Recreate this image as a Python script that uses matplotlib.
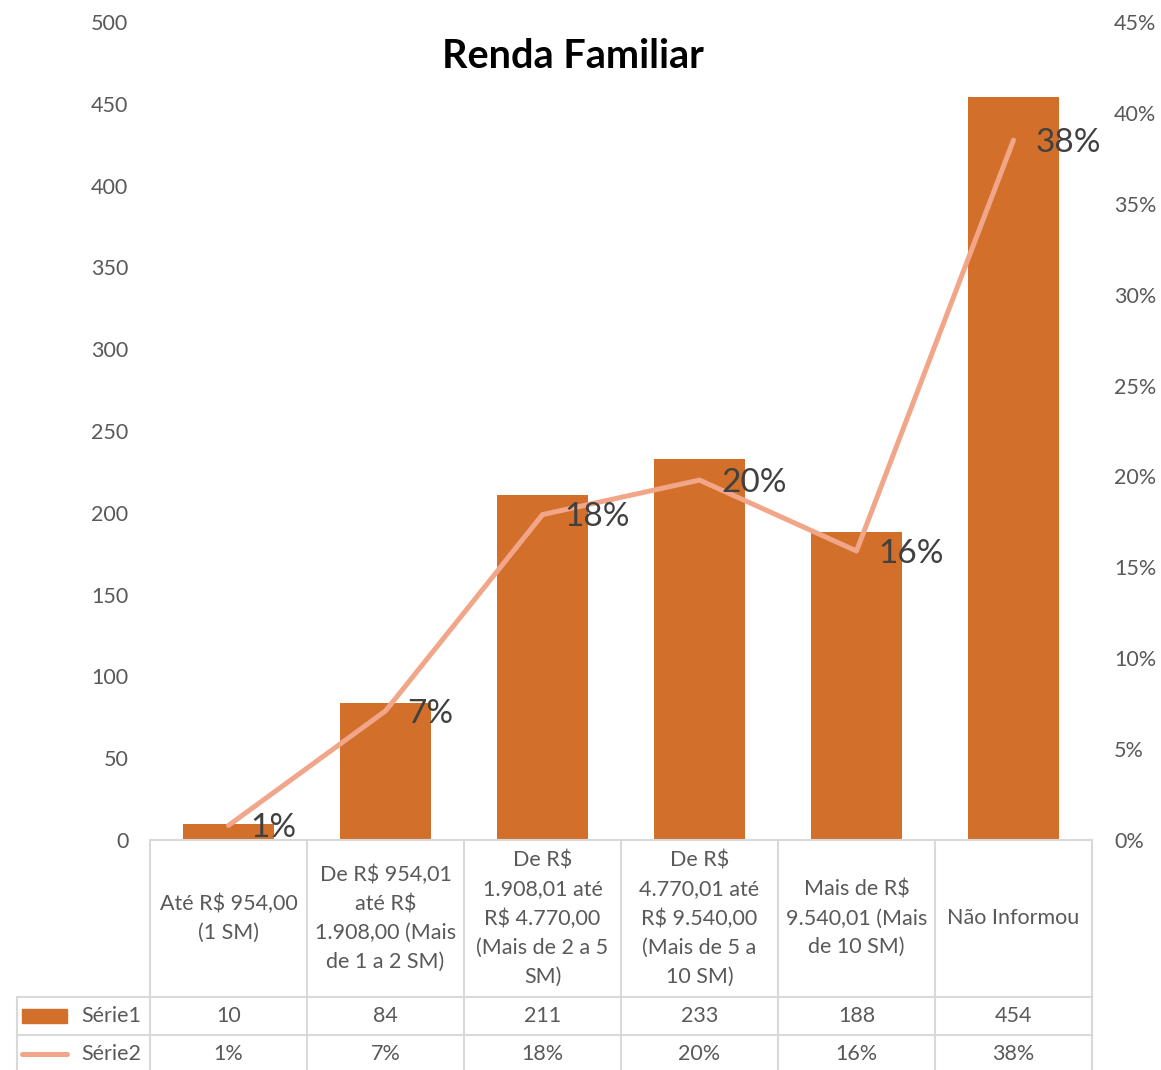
import matplotlib.pyplot as plt
from matplotlib.transforms import blended_transform_factory
from matplotlib.ticker import PercentFormatter

plt.rcParams['font.family'] = ['Lato', 'DejaVu Sans']
plt.rcParams['text.parse_math'] = False

categorias = ['Até R$ 954,00\n(1 SM)',
              'De R$ 954,01\naté R$\n1.908,00 (Mais\nde 1 a 2 SM)',
              'De R$\n1.908,01 até\nR$ 4.770,00\n(Mais de 2 a 5\nSM)',
              'De R$\n4.770,01 até\nR$ 9.540,00\n(Mais de 5 a\n10 SM)',
              'Mais de R$\n9.540,01 (Mais\nde 10 SM)',
              'Não Informou']
serie1 = [10, 84, 211, 233, 188, 454]
serie2 = [0.008, 0.071, 0.179, 0.198, 0.159, 0.385]
serie2_txt = ['1%', '7%', '18%', '20%', '16%', '38%']

cor_barra = '#D2702B'
cor_linha = '#F2A689'
cinza = '#595959'
grade = '#D9D9D9'
fs = 15.5

W, H = 1161, 1070
fig = plt.figure(figsize=(W/100, H/100), dpi=100)
ax = fig.add_axes([150/W, (H-840)/H, (1092-150)/W, (840-22)/H])
ax2 = ax.twinx()

x = list(range(len(categorias)))
ax.bar(x, serie1, width=0.575, color=cor_barra, zorder=2)
ax.set_xlim(-0.5, len(categorias)-0.5)
ax.set_ylim(0, 500)
ax.set_yticks(range(0, 501, 50))
ax.set_xticks([])

ax2.plot(x, serie2, color=cor_linha, lw=3.6, solid_capstyle='round', zorder=3)
ax2.set_ylim(0, 0.45)
ax2.set_yticks([i/100 for i in range(0, 46, 5)])
ax2.yaxis.set_major_formatter(PercentFormatter(1.0, decimals=0))
for xi, yi, t in zip(x, serie2, serie2_txt):
    ax2.annotate(t, (xi, yi), xytext=(16, -2), textcoords='offset points',
                 ha='left', va='center', fontsize=24, color='#404040')

for a in (ax, ax2):
    for s in a.spines.values():
        s.set_visible(False)
    a.tick_params(length=0, labelsize=fs, labelcolor=cinza)
ax.tick_params(axis='y', pad=15.5)
ax2.tick_params(axis='y', pad=16)

fig.text(573/W, 1-56/H, 'Renda Familiar', ha='center', va='center',
         fontsize=28.5, fontweight='bold', color='black')

# tabela de dados
tr = blended_transform_factory(ax.transData, ax.transAxes)
altura = 818
h_cab = 157/altura
h_lin = 38/altura
y0 = 0
y1 = -h_cab
y2 = y1 - h_lin
y3 = y2 - h_lin
x_esq = -0.5 - 133/157
n = len(categorias)
kw = dict(transform=tr, clip_on=False, color=grade, lw=1.5)
ax.plot([-0.5, n-0.5], [y0, y0], **kw)
ax.plot([x_esq, n-0.5], [y1, y1], **kw)
ax.plot([x_esq, n-0.5], [y2, y2], **kw)
for i in range(n+1):
    ax.plot([i-0.5, i-0.5], [y0, y3], **kw)
ax.plot([x_esq, x_esq], [y1, y3], **kw)

for i, c in enumerate(categorias):
    ax.text(i, (y0+y1)/2, c, transform=tr, ha='center', va='center',
            fontsize=fs, color=cinza, linespacing=1.55)
    ax.text(i, (y1+y2)/2, str(serie1[i]), transform=tr, ha='center',
            va='center', fontsize=fs, color=cinza)
    ax.text(i, (y2+y3)/2, serie2_txt[i], transform=tr, ha='center',
            va='center', fontsize=fs, color=cinza)

# legenda na tabela
ax.add_patch(plt.Rectangle((x_esq + 5/157, (y1+y2)/2 - 7/altura), 45/157, 14/altura,
                           transform=tr, clip_on=False, color=cor_barra))
ax.plot([x_esq + 5/157, x_esq + 50/157], [(y2+y3)/2]*2, transform=tr,
        clip_on=False, color=cor_linha, lw=3.6, solid_capstyle='round')
ax.text(x_esq + 64/157, (y1+y2)/2, 'Série1', transform=tr, ha='left',
        va='center', fontsize=fs, color=cinza)
ax.text(x_esq + 64/157, (y2+y3)/2, 'Série2', transform=tr, ha='left',
        va='center', fontsize=fs, color=cinza)

fig.savefig('out.png', dpi=100)
